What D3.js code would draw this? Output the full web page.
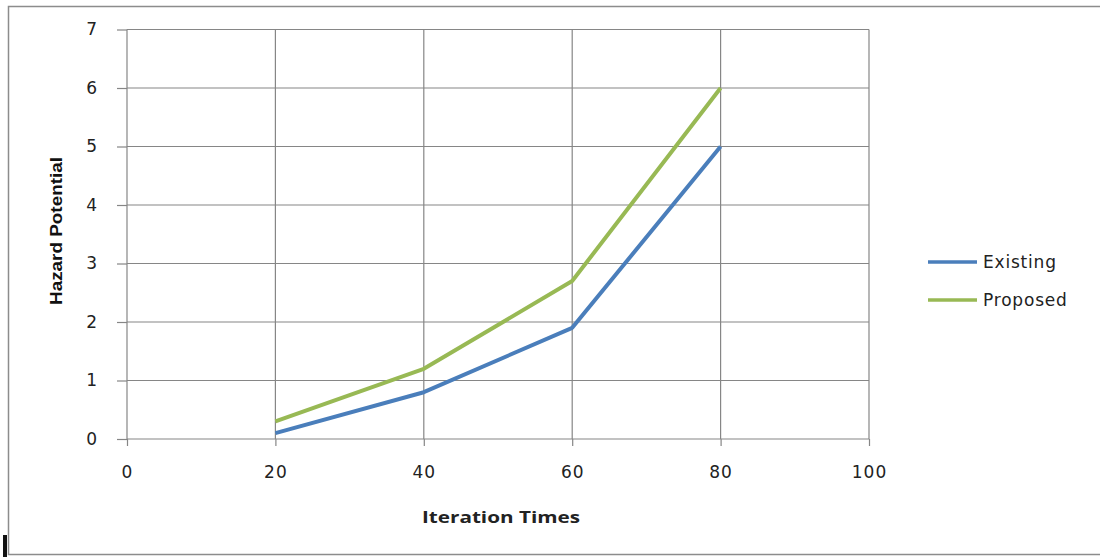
<!DOCTYPE html>
<html>
<head>
<meta charset="utf-8">
<script src="https://cdn.jsdelivr.net/npm/d3@7"></script>
<style>
  html, body { margin: 0; padding: 0; background: #fff; }
  svg { display: block; }
</style>
</head>
<body>
<svg id="chart" width="1100" height="557"></svg>
<script>
// Iteration counts on the x axis
const iterations = [20, 40, 60, 80];
// Hazard potential per series
const existingValues = [0.1, 0.8, 1.9, 5.0];
const proposedValues = [0.3, 1.2, 2.7, 6.0];
const seriesNames = ["Existing", "Proposed"];
const seriesColors = ["#4a7ebb", "#98b954"];
const xTicks = [0, 20, 40, 60, 80, 100];
const yTicks = [0, 1, 2, 3, 4, 5, 6, 7];

const svg = d3.select("#chart");
const plot = { left: 127, right: 869, top: 29.5, bottom: 439 };

const x = d3.scaleLinear().domain([0, 100]).range([plot.left, plot.right]);
const y = d3.scaleLinear().domain([0, 7]).range([plot.bottom, plot.top]);

const tickFont = "'DejaVu Sans', sans-serif";
const gridColor = "#868686";

// Outer chart frame
svg.append("rect")
  .attr("x", 8.5).attr("y", 6.5)
  .attr("width", 1120).attr("height", 548)
  .attr("fill", "none").attr("stroke", "#8c8c8c").attr("stroke-width", 1.5);

// Text cursor mark at the lower left
svg.append("rect")
  .attr("x", 3).attr("y", 535).attr("width", 4).attr("height", 22)
  .attr("fill", "#111");

// Gridlines
svg.append("g").selectAll("line.h").data(yTicks.slice(1)).join("line")
  .attr("x1", plot.left).attr("x2", plot.right)
  .attr("y1", d => y(d)).attr("y2", d => y(d))
  .attr("stroke", gridColor).attr("stroke-width", 1.2);
svg.append("g").selectAll("line.v").data(xTicks.slice(1)).join("line")
  .attr("x1", d => x(d)).attr("x2", d => x(d))
  .attr("y1", plot.top).attr("y2", plot.bottom)
  .attr("stroke", gridColor).attr("stroke-width", 1.2);

// Axes
const yAxis = d3.axisLeft(y).tickValues(yTicks).tickFormat(d3.format("d"))
  .tickSize(10).tickPadding(19);
const xAxis = d3.axisBottom(x).tickValues(xTicks).tickFormat(d3.format("d"))
  .tickSize(7).tickPadding(20);

const gy = svg.append("g").attr("transform", `translate(${plot.left},0)`).call(yAxis);
const gx = svg.append("g").attr("transform", `translate(0,${plot.bottom})`).call(xAxis);

[gx, gy].forEach(g => {
  g.select(".domain").attr("stroke", gridColor).attr("stroke-width", 1.2);
  g.selectAll(".tick line").attr("stroke", gridColor).attr("stroke-width", 1.2);
  g.selectAll(".tick text")
    .attr("font-family", tickFont).attr("font-size", 17)
    .attr("letter-spacing", 1).attr("fill", "#222");
});
gy.select(".domain").attr("d", `M0,${plot.top}V${plot.bottom}`);
gx.select(".domain").attr("d", `M${plot.left},0H${plot.right}`);

// Series lines
const line = d3.line().x(d => x(d[0])).y(d => y(d[1]));
[existingValues, proposedValues].forEach((vals, i) => {
  svg.append("path")
    .datum(iterations.map((it, j) => [it, vals[j]]))
    .attr("d", line)
    .attr("fill", "none")
    .attr("stroke", seriesColors[i])
    .attr("stroke-width", 4)
    .attr("stroke-linejoin", "round");
});

// Axis titles
svg.append("text")
  .attr("transform", "translate(62,231) rotate(-90)")
  .attr("text-anchor", "middle")
  .attr("font-family", "'Liberation Sans Narrow', 'Liberation Sans', sans-serif")
  .attr("font-weight", "bold").attr("font-size", 17)
  .attr("textLength", 148).attr("lengthAdjust", "spacingAndGlyphs")
  .attr("fill", "#111")
  .text("Hazard Potential");

svg.append("text")
  .attr("x", 501).attr("y", 523)
  .attr("text-anchor", "middle")
  .attr("font-family", "'Open Sans', sans-serif")
  .attr("font-weight", "bold").attr("font-size", 16)
  .attr("textLength", 158).attr("lengthAdjust", "spacingAndGlyphs")
  .attr("fill", "#222")
  .text("Iteration Times");

// Legend
const legend = svg.append("g");
seriesNames.forEach((name, i) => {
  const ly = 262 + i * 38;
  legend.append("line")
    .attr("x1", 928).attr("x2", 977).attr("y1", ly).attr("y2", ly)
    .attr("stroke", seriesColors[i]).attr("stroke-width", 3.5);
  legend.append("text")
    .attr("x", 983).attr("y", ly + 6)
    .attr("font-family", tickFont).attr("font-size", 17)
    .attr("letter-spacing", 0.8).attr("fill", "#222")
    .text(name);
});
</script>
</body>
</html>
